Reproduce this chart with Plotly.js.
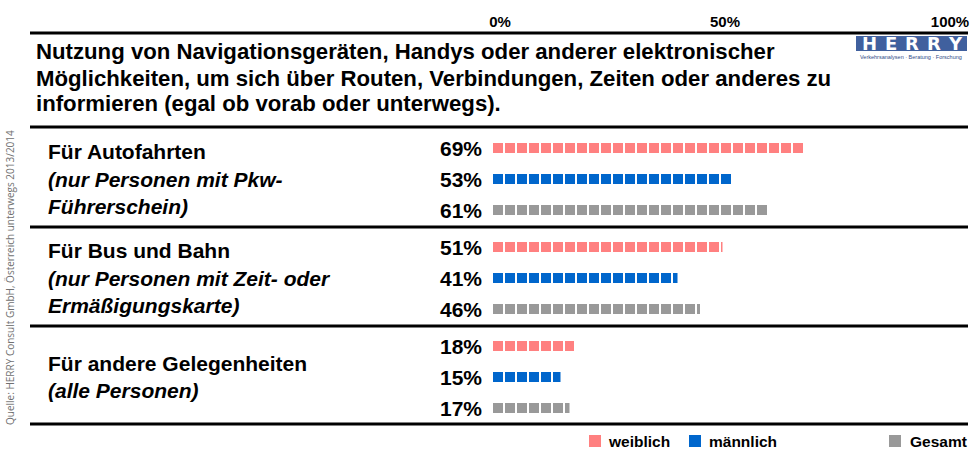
<!DOCTYPE html>
<html>
<head>
<meta charset="utf-8">
<script src="https://cdn.plot.ly/plotly-3.0.1.min.js"></script>
<style>html,body{margin:0;padding:0;background:#fff;}#chart{width:970px;height:450px;}</style>
</head>
<body>
<div id="chart"></div>
<script>
// ---- data ----
const groups = ["Für Autofahrten", "Für Bus und Bahn", "Für andere Gelegenheiten"];
const groupNotes = [
  ["(nur Personen mit Pkw-", "Führerschein)"],
  ["(nur Personen mit Zeit- oder", "Ermäßigungskarte)"],
  ["(alle Personen)"]
];
const seriesNames = ["weiblich", "männlich", "Gesamt"];
const weiblich = [69, 51, 18];
const maennlich = [53, 41, 15];
const gesamt = [61, 46, 17];
const tickVals = [0, 50, 100];
const tickText = ["0%", "50%", "100%"];
const titleLines = [
  "Nutzung von Navigationsgeräten, Handys oder anderer elektronischer",
  "Möglichkeiten, um sich über Routen, Verbindungen, Zeiten oder anderes zu",
  "informieren (egal ob vorab oder unterwegs)."
];
const source = "Quelle: HERRY Consult GmbH, Österreich unterwegs 2013/2014";

// ---- styling / layout ----
const colors = ["#FF8080", "#0066CC", "#999999"];
const W = 970, H = 450;
const FONT = "Liberation Sans, Arial, sans-serif";
const px = x => x / W;
const py = y => 1 - y / H;
const ROW = 31, GROUP = 99 / 31;   // row pitch in px, group stride in row units
const rowY = (g, s) => g * GROUP + s;

const allSeries = [weiblich, maennlich, gesamt];
const traces = [];
const annotations = [];

allSeries.forEach((vals, s) => {
  vals.forEach((v, g) => {
    traces.push({
      type: "scatter", mode: "lines",
      x: [0, v], y: [rowY(g, s), rowY(g, s)],
      line: {color: colors[s], width: 10, dash: "10px,2px"},
      hoverinfo: "skip", showlegend: false
    });
    annotations.push({
      x: 0, y: rowY(g, s), xref: "x", yref: "y",
      text: "<b>" + v + "%</b>", showarrow: false,
      xanchor: "right", yanchor: "middle", xshift: -9,
      font: {family: FONT, size: 21, color: "#000"}
    });
  });
});

// group labels
groups.forEach((g, gi) => {
  const lines = ["<b>" + g + "</b>"].concat(groupNotes[gi].map(t => "<b><i>" + t + "</i></b>"));
  const mid = 148 + gi * 99 + ROW;  // pixel of middle row
  const step = 27.5;
  lines.forEach((t, li) => {
    const yPix = mid + (li - (lines.length - 1) / 2) * step;
    annotations.push({
      x: px(46), y: py(yPix), xref: "paper", yref: "paper",
      text: t, showarrow: false, xanchor: "left", yanchor: "middle",
      font: {family: FONT, size: 21, color: "#000"}
    });
  });
});

// title (one annotation per line for exact line spacing)
titleLines.forEach((t, i) => {
  annotations.push({
    x: px(34), y: py(52 + i * 26), xref: "paper", yref: "paper",
    text: "<b>" + t + "</b>", showarrow: false, align: "left",
    xanchor: "left", yanchor: "middle",
    font: {family: FONT, size: 22.2, color: "#000"}
  });
});

// source (rotated)
annotations.push({
  x: px(10), y: py(278), xref: "paper", yref: "paper",
  text: source, showarrow: false, textangle: -90,
  xanchor: "center", yanchor: "middle",
  font: {family: "Open Sans, sans-serif", size: 10, color: "#707070"}
});

// logo
const shapes = [];
shapes.push({type: "rect", xref: "paper", yref: "paper",
  x0: px(856), x1: px(967), y0: py(51), y1: py(36),
  fillcolor: "#40609E", line: {width: 0}});
const logoLetters = ["H", "E", "R", "R", "Y"];
logoLetters.forEach((l, i) => {
  annotations.push({
    x: px(869 + i * 21.5), y: py(43.5), xref: "paper", yref: "paper",
    text: "<b>" + l + "</b>", showarrow: false, xanchor: "center", yanchor: "middle",
    font: {family: "DejaVu Sans, sans-serif", size: 18, color: "#fff"}
  });
});
annotations.push({
  x: px(911), y: py(57), xref: "paper", yref: "paper",
  text: "Verkehrsanalysen · Beratung · Forschung", showarrow: false, xanchor: "center", yanchor: "middle",
  font: {family: FONT, size: 5.5, color: "#304c88"}
});

// separator lines
[33, 127, 227, 326, 424].forEach(y => {
  shapes.push({type: "line", xref: "paper", yref: "paper",
    x0: px(30), x1: px(968), y0: py(y), y1: py(y),
    line: {color: "#000", width: 3}});
});

// custom legend
const legendPos = [[589, 606], [689, 707], [889, 908]];
seriesNames.forEach((n, i) => {
  shapes.push({type: "rect", xref: "paper", yref: "paper",
    x0: px(legendPos[i][0]), x1: px(legendPos[i][0] + 12),
    y0: py(447), y1: py(435), fillcolor: colors[i], line: {width: 0}});
  annotations.push({
    x: px(legendPos[i][1]), y: py(441), xref: "paper", yref: "paper",
    text: "<b>" + n + "</b>", showarrow: false, xanchor: "left", yanchor: "middle",
    font: {family: FONT, size: 15.5, color: "#000"}
  });
});

const layout = {
  width: W, height: H,
  margin: {l: 0, r: 0, t: 0, b: 0},
  paper_bgcolor: "#fff", plot_bgcolor: "#fff",
  showlegend: false,
  xaxis: {
    domain: [px(493), px(943)], range: [0, 100],
    side: "top", anchor: "free", position: py(30),
    tickvals: tickVals, ticktext: tickText, ticklabelshift: 7,
    showgrid: false, zeroline: false, showline: false, ticks: "",
    tickfont: {family: FONT, size: 15, color: "#000", weight: "bold"},
    fixedrange: true
  },
  yaxis: {
    domain: [py(425), py(130)],
    range: [(425 - 148) / ROW, (130 - 148) / ROW],
    visible: false, fixedrange: true
  },
  shapes: shapes,
  annotations: annotations
};

Plotly.newPlot("chart", traces, layout, {displayModeBar: false, staticPlot: true});
</script>
</body>
</html>
